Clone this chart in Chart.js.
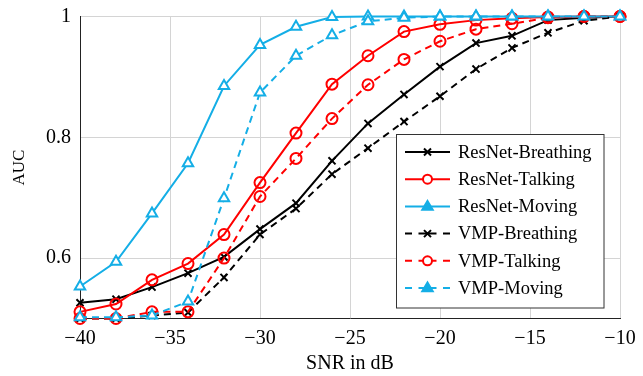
<!DOCTYPE html>
<html>
<head>
<meta charset="utf-8">
<script src="https://cdn.jsdelivr.net/npm/chart.js@4/dist/chart.umd.min.js"></script>
<style>
  html, body { margin: 0; padding: 0; background: #fff; }
  #wrap { width: 643px; height: 376px; }
</style>
</head>
<body>
<div id="wrap"><canvas id="c" width="643" height="376"></canvas></div>
<script>
// ── data ──
const snr = [-40, -38, -36, -34, -32, -30, -28, -26, -24, -22, -20, -18, -16, -14, -12, -10];

const resnetBreathing = [0.526, 0.532, 0.552, 0.575, 0.602, 0.648, 0.691, 0.761, 0.823, 0.871, 0.917, 0.956, 0.968, 0.994, 0.998, 1.0];
const resnetTalking   = [0.511, 0.524, 0.564, 0.591, 0.639, 0.725, 0.807, 0.888, 0.935, 0.975, 0.987, 0.994, 0.997, 0.999, 1.0, 1.0];
const resnetMoving    = [0.553, 0.594, 0.674, 0.757, 0.885, 0.953, 0.983, 0.999, 1.0, 1.0, 1.0, 1.0, 1.0, 1.0, 1.0, 1.0];
const vmpBreathing    = [0.500, 0.500, 0.505, 0.510, 0.568, 0.639, 0.682, 0.739, 0.782, 0.826, 0.868, 0.913, 0.948, 0.973, 0.993, 1.0];
const vmpTalking      = [0.500, 0.500, 0.511, 0.511, 0.600, 0.702, 0.765, 0.831, 0.887, 0.929, 0.959, 0.979, 0.988, 0.998, 1.0, 1.0];
const vmpMoving       = [0.502, 0.502, 0.505, 0.528, 0.699, 0.874, 0.935, 0.969, 0.992, 0.998, 1.0, 1.0, 1.0, 1.0, 1.0, 1.0];

const yTickValues = [0.6, 0.8, 1];

// ── style ──
const C = { black: '#000000', red: '#ff0000', cyan: '#14aee6', grid: '#d4d4d4', axis: '#222222' };
const FONT = '"Liberation Serif", "DejaVu Serif", serif';
const DASH = [7, 5];

const toXY = arr => arr.map((v, i) => ({ x: snr[i], y: v }));

function series(label, data, color, marker, dashed, order) {
  return {
    label,
    data: toXY(data),
    borderColor: color,
    backgroundColor: marker === 'crossRot' ? color : (marker === 'triangle' ? '#ffffff' : 'rgba(255,255,255,0)'),
    borderWidth: 2,
    borderDash: dashed ? DASH : [],
    pointStyle: marker,
    pointRadius: marker === 'triangle' ? 6 : (marker === 'circle' ? 5.5 : 5),
    pointBorderWidth: 2,
    pointBorderColor: color,
    tension: 0,
    clip: 12,
    order,
    _dashed: dashed,
  };
}

const datasets = [
  series('ResNet-Breathing', resnetBreathing, C.black, 'crossRot', false, 6),
  series('ResNet-Talking',   resnetTalking,   C.red,   'circle',   false, 5),
  series('ResNet-Moving',    resnetMoving,    C.cyan,  'triangle', false, 4),
  series('VMP-Breathing',    vmpBreathing,    C.black, 'crossRot', true,  3),
  series('VMP-Talking',      vmpTalking,      C.red,   'circle',   true,  2),
  series('VMP-Moving',       vmpMoving,       C.cyan,  'triangle', true,  1),
];

// ── legend drawn inside the plot (pgfplots style) ──
function drawMarker(ctx, style, x, y, color) {
  ctx.save();
  ctx.strokeStyle = color;
  ctx.lineWidth = 2;
  ctx.setLineDash([]);
  ctx.beginPath();
  if (style === 'crossRot') {
    const r = 3.5;
    ctx.moveTo(x - r, y - r); ctx.lineTo(x + r, y + r);
    ctx.moveTo(x + r, y - r); ctx.lineTo(x - r, y + r);
    ctx.stroke();
  } else if (style === 'circle') {
    ctx.fillStyle = '#ffffff';
    ctx.arc(x, y, 4.5, 0, Math.PI * 2);
    ctx.fill(); ctx.stroke();
  } else {
    const r = 5.5;
    ctx.fillStyle = color;
    ctx.moveTo(x, y - r);
    ctx.lineTo(x + r * 0.95, y + r * 0.6);
    ctx.lineTo(x - r * 0.95, y + r * 0.6);
    ctx.closePath();
    ctx.fill(); ctx.stroke();
  }
  ctx.restore();
}

const boxLegend = {
  id: 'boxLegend',
  afterDraw(chart) {
    const ctx = chart.ctx;
    const bx = 396.5, by = 134.5, bw = 207.5, bh = 173.5;
    ctx.save();
    ctx.fillStyle = '#ffffff';
    ctx.fillRect(bx, by, bw, bh);
    ctx.strokeStyle = '#333333';
    ctx.lineWidth = 1;
    ctx.strokeRect(bx, by, bw, bh);
    ctx.font = '18.5px ' + FONT;
    ctx.textBaseline = 'middle';
    ctx.textAlign = 'left';
    chart.data.datasets.forEach((ds, i) => {
      const y = by + 17.5 + i * 27.2;
      const x0 = 405, x1 = 450, xm = (x0 + x1) / 2;
      ctx.strokeStyle = ds.borderColor;
      ctx.lineWidth = 2;
      ctx.beginPath();
      if (ds._dashed) {
        ctx.moveTo(x0, y); ctx.lineTo(x0 + 7, y);
        ctx.moveTo(xm - 9, y); ctx.lineTo(xm + 9, y);
        ctx.moveTo(x1 - 7, y); ctx.lineTo(x1, y);
      } else {
        ctx.moveTo(x0, y); ctx.lineTo(x1, y);
      }
      ctx.stroke();
      drawMarker(ctx, ds.pointStyle, xm, y, ds.borderColor);
      ctx.fillStyle = '#000000';
      ctx.fillText(ds.label, 458, y + 1);
    });
    ctx.restore();
  }
};

const minus = v => String(v).replace('-', '\u2212');

new Chart(document.getElementById('c'), {
  type: 'line',
  data: { datasets },
  plugins: [boxLegend],
  options: {
    responsive: false,
    animation: false,
    layout: { padding: { top: 16.5, right: 23, left: 0, bottom: 0 } },
    plugins: { legend: { display: false }, tooltip: { enabled: false } },
    scales: {
      x: {
        type: 'linear',
        min: -40, max: -10,
        afterFit: s => { s.height = 57.5; s.paddingLeft = 0; s.paddingRight = 0; },
        ticks: {
          stepSize: 5,
          color: '#000',
          padding: 8,
          font: { family: FONT, size: 20 },
          callback: v => minus(v),
        },
        grid: { color: C.grid, lineWidth: 1, drawTicks: false },
        border: { color: C.axis, width: 1 },
        title: {
          display: true, text: 'SNR in dB', color: '#000',
          font: { family: FONT, size: 20 }, padding: { top: 0, bottom: 0 },
        },
      },
      y: {
        min: 0.5, max: 1,
        afterFit: s => { s.width = 80; s.paddingTop = 0; s.paddingBottom = 0; },
        afterBuildTicks: s => { s.ticks = yTickValues.map(v => ({ value: v })); },
        ticks: {
          color: '#000',
          padding: 9,
          font: { family: FONT, size: 20 },
          callback: v => String(v),
        },
        grid: { color: C.grid, lineWidth: 1, drawTicks: false },
        border: { color: C.axis, width: 1 },
        title: {
          display: true, text: 'AUC', color: '#000',
          font: { family: FONT, size: 17 }, padding: { top: 9.5, bottom: 0 },
        },
      },
    },
  },
});
</script>
</body>
</html>
